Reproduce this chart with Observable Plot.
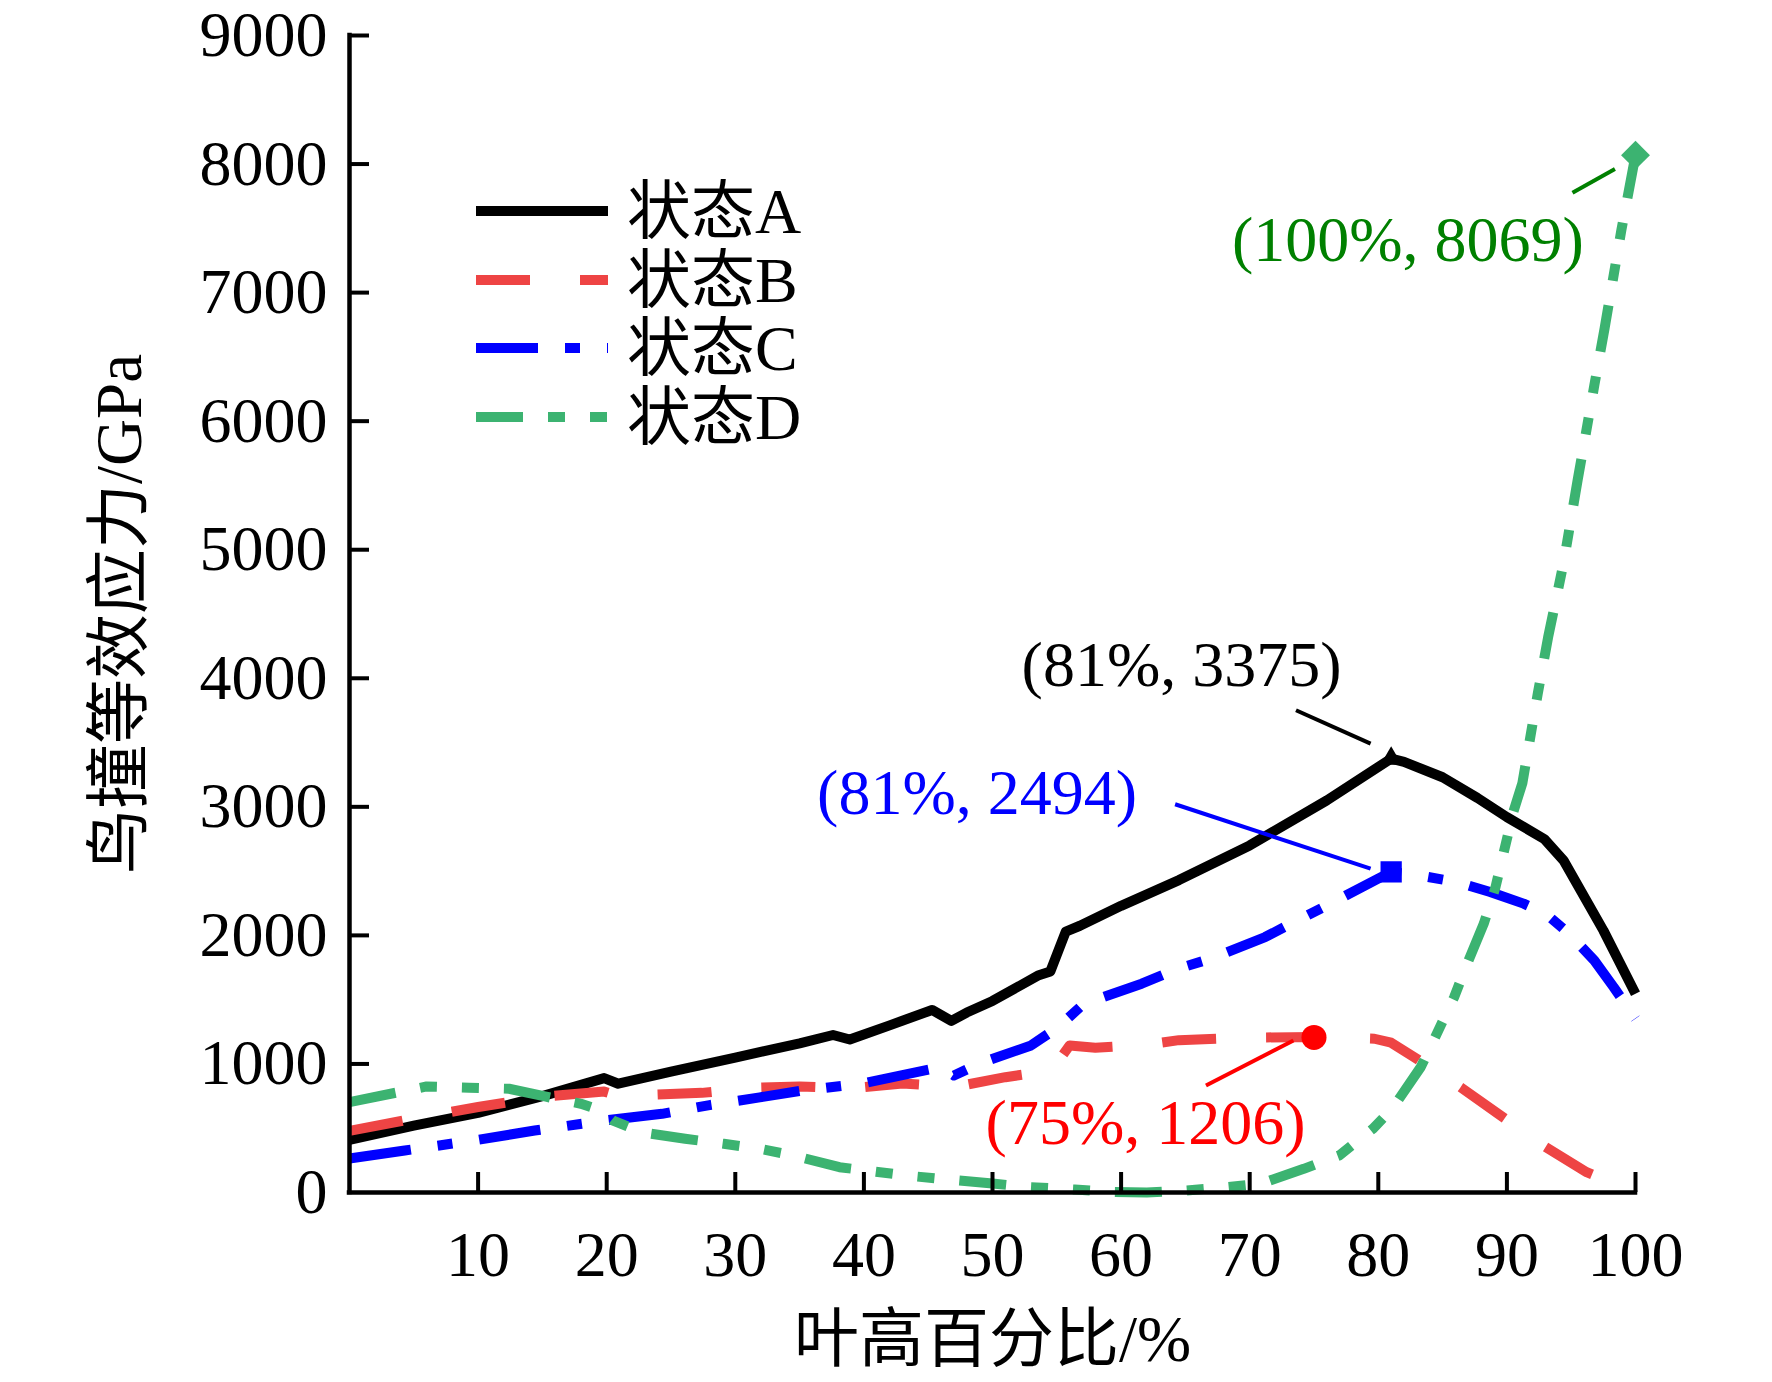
<!DOCTYPE html>
<html><head><meta charset="utf-8">
<script src="https://cdn.jsdelivr.net/npm/d3@7"></script>
<script src="https://cdn.jsdelivr.net/npm/@observablehq/plot@0.6"></script>
<style>
html,body{margin:0;padding:0;background:#fff;}
#wrap{width:1772px;height:1382px;}
</style></head><body><div id="wrap"></div>
<script>
// ---- data ----
const seriesNames = ["状态A", "状态B", "状态C", "状态D"];
const seriesColors = ["#000000", "#EE4444", "#0000FF", "#3CB371"];
const seriesDash = [null, "54,50", "62,27,15,27", "47,25,17,25,17,25"];

const stateA_x = [0, 5, 10, 15, 19.8, 20.9, 25, 30, 35, 37.6, 38.9, 42, 45.3, 46.8, 48, 50, 53.6, 54.5, 55.7, 56.8, 60, 64.5, 70, 76, 81, 82, 85, 87.7, 90, 92.9, 94.4, 97.5, 100];
const stateA_y = [410, 520, 620, 750, 890, 846, 940, 1050, 1160, 1225, 1190, 1300, 1420, 1335, 1400, 1490, 1690, 1720, 2030, 2075, 2230, 2430, 2700, 3050, 3375, 3350, 3230, 3070, 2920, 2750, 2584, 2039, 1546];

const stateB_x = [0, 5, 10, 15, 19.8, 21, 27.4, 31.4, 35, 39, 43, 45, 47, 51, 54.6, 56, 58, 62, 64.5, 70, 75, 79.7, 81, 82.8, 86.4, 89.3, 92.8, 96.2, 100];
const stateB_y = [480, 575, 665, 745, 785, 750, 775, 815, 825, 810, 848, 835, 820, 897, 949, 1144, 1126, 1150, 1185, 1205, 1210, 1196, 1165, 1053, 819, 614, 366, 158, 0];

const stateC_x = [0, 4.3, 10, 14.4, 19.8, 24.3, 28, 31.9, 35, 40, 44.1, 46, 47, 49, 53, 55.1, 57.1, 61.6, 64.4, 67, 71.2, 73.2, 76, 81, 83, 86.1, 88.7, 91.3, 93, 94.7, 96.8, 98.3, 100];
const stateC_y = [265, 327, 410, 482, 560, 612, 680, 740, 790, 850, 936, 975, 910, 1004, 1144, 1286, 1468, 1624, 1740, 1820, 1987, 2091, 2233, 2494, 2470, 2415, 2337, 2247, 2170, 2026, 1805, 1598, 1352];

const stateD_x = [0, 3.3, 6, 9.3, 12.4, 15.2, 18, 19.5, 20.5, 22.7, 26.1, 29.1, 31.9, 34.5, 38.1, 43.3, 46.5, 50, 52.6, 56.4, 59, 62, 65, 68.2, 70.8, 74.2, 77, 78.6, 79.6, 81.1, 83.3, 84.3, 85.9, 86.8, 88.2, 89.1, 90.5, 91.2, 92.4, 93.2, 94.4, 95.5, 96.8, 97.6, 98.9, 100];
const stateD_y = [703, 770, 825, 815, 807, 747, 690, 640, 560, 469, 418, 379, 340, 288, 197, 132, 101, 70, 44, 23, 5, 0, 15, 41, 67, 184, 290, 420, 498, 654, 975, 1183, 1520, 1753, 2091, 2370, 2960, 3183, 3880, 4317, 4893, 5541, 6280, 6724, 7486, 8069];

const xTicks = [10, 20, 30, 40, 50, 60, 70, 80, 90, 100];
const yTicks = [0, 1000, 2000, 3000, 4000, 5000, 6000, 7000, 8000, 9000];

const peakX = [81, 75, 81, 100];
const peakY = [3375, 1206, 2494, 8069];
const peakSymbols = ["triangle", "circle", "square", "diamond2"];
const peakR = [8, 12.5, 12, 13];
const peakColors = ["#000000", "#FF0000", "#0000FF", "#3CB371"];

const annText = ["(81%, 3375)", "(75%, 1206)", "(81%, 2494)", "(100%, 8069)"];
const annColors = ["#000000", "#FF0000", "#0000FF", "#008000"];
const annX = [64.7, 61.9, 48.8, 82.3];
const annY = [4100, 540, 3100, 7409];
const leadX1 = [73.6, 66.6, 64.2, 95.1];
const leadY1 = [3751, 833, 3020, 7777];
const leadX2 = [79.4, 73.4, 79.4, 98.4];
const leadY2 = [3492, 1183, 2519, 7961];

const xLabel = "叶高百分比/%";
const yLabel = "鸟撞等效应力/GPa";

// ---- build tables ----
const allX = [stateA_x, stateB_x, stateC_x, stateD_x];
const allY = [stateA_y, stateB_y, stateC_y, stateD_y];
const rows = [];
seriesNames.forEach((s, i) => allX[i].forEach((x, j) => rows.push({series: s, x, y: allY[i][j]})));
const anns = annText.map((t, i) => ({t, color: annColors[i], x: annX[i], y: annY[i], x1: leadX1[i], y1: leadY1[i], x2: leadX2[i], y2: leadY2[i]}));

const FONT = '"Liberation Serif","Times New Roman","Noto Sans CJK SC",serif';

const lineMarks = seriesNames.map((s, i) => Plot.line(rows.filter(d => d.series === s), {
  x: "x", y: "y", stroke: seriesColors[i], strokeWidth: 10,
  strokeDasharray: seriesDash[i], strokeLinecap: "butt", strokeLinejoin: "round"
}));
const peakMarks = peakX.map((x, i) => Plot.dot([{x, y: peakY[i]}], {
  x: "x", y: "y", symbol: peakSymbols[i], r: peakR[i], fill: peakColors[i], stroke: "none"
}));

const chart = Plot.plot({
  width: 1772, height: 1382,
  marginLeft: 349, marginRight: 137, marginTop: 35, marginBottom: 190,
  style: {fontFamily: FONT, fontSize: "64px", background: "white", color: "black", overflow: "visible"},
  x: {domain: [0, 100]},
  y: {domain: [0, 9000]},
  marks: [
    ...lineMarks,
    Plot.link(anns, {x1: "x1", y1: "y1", x2: "x2", y2: "y2", stroke: "color", strokeWidth: 4}),
    ...peakMarks,
    Plot.text(anns, {x: "x", y: "y", text: "t", fill: "color", fontSize: 64, textAnchor: "middle", lineAnchor: "middle"}),
    Plot.ruleX([0], {strokeWidth: 4.5, strokeLinecap: "square"}),
    Plot.ruleY([0], {strokeWidth: 4.5, strokeLinecap: "square"}),
    Plot.axisX(xTicks, {tickSize: -20, strokeWidth: 4, fill: "none", label: null}),
    Plot.axisX(xTicks, {tickSize: 0, tickPadding: 38, fontSize: 64, label: null, tickFormat: d => String(d)}),
    Plot.axisY(yTicks.slice(1), {tickSize: -20, strokeWidth: 4, fill: "none", label: null}),
    Plot.axisY(yTicks, {tickSize: 0, tickPadding: 22, fontSize: 64, label: null, tickFormat: d => String(d)}),
    Plot.text([xLabel], {frameAnchor: "bottom", dy: 148, fontSize: 65, textAnchor: "middle", lineAnchor: "middle"}),
    Plot.text([yLabel], {frameAnchor: "left", dx: -229, rotate: -90, fontSize: 65, textAnchor: "middle", lineAnchor: "middle"})
  ]
});
document.getElementById("wrap").appendChild(chart);

// ---- legend (inside plot area, top-left) ----
const svg = d3.select(chart);
const legendRowY = [211, 280, 348, 417];
const lg = svg.append("g").attr("font-family", FONT).attr("font-size", 64).attr("text-anchor", "start");
seriesNames.forEach((s, i) => {
  lg.append("line").attr("x1", 476).attr("x2", 608).attr("y1", legendRowY[i]).attr("y2", legendRowY[i])
    .attr("stroke", seriesColors[i]).attr("stroke-width", 10)
    .attr("stroke-dasharray", seriesDash[i]).attr("stroke-linecap", "butt");
  lg.append("text").attr("x", 627).attr("y", legendRowY[i]).attr("dy", "0.35em")
    .attr("text-anchor", "start").attr("fill", "black").text(s);
});
</script>
</body></html>
